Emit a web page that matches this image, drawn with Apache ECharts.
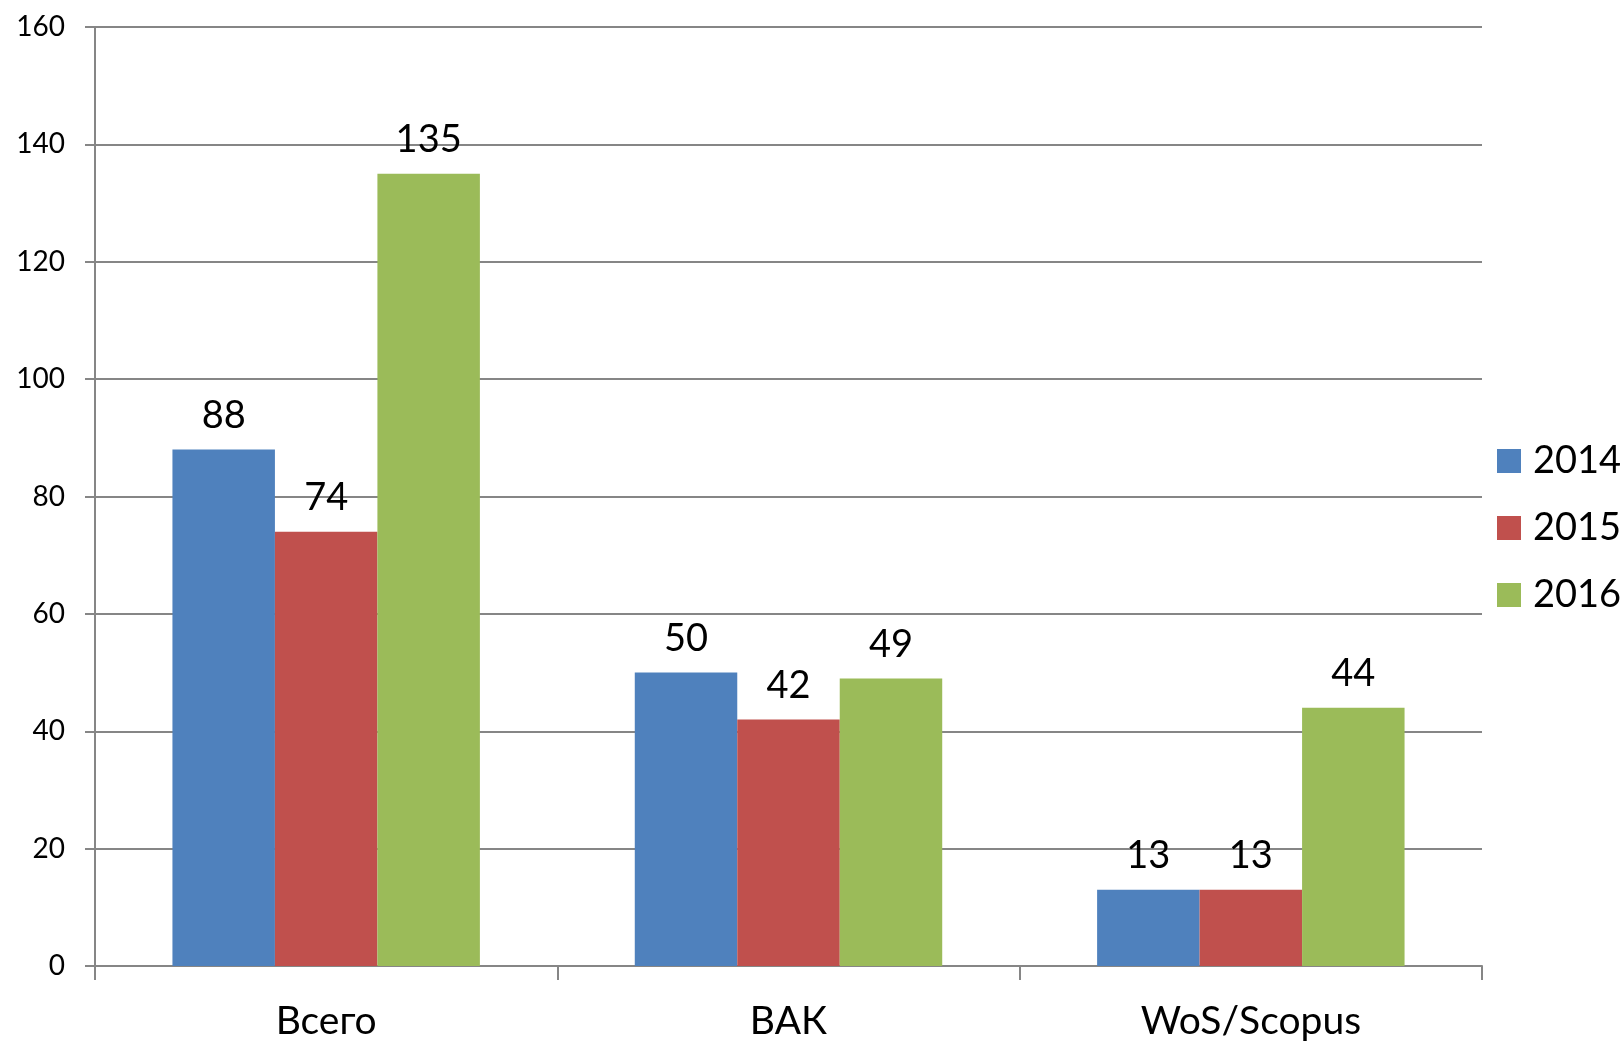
<!DOCTYPE html>
<html>
<head>
<meta charset="utf-8">
<script src="https://cdn.jsdelivr.net/npm/echarts@6/dist/echarts.min.js"></script>
<style>
html,body{margin:0;padding:0;background:#fff;}
#chart{width:1622px;height:1041px;}
</style>
</head>
<body>
<div id="chart"></div>
<script>
const categories = ['Всего', 'ВАК', 'WoS/Scopus'];
const seriesNames = ['2014', '2015', '2016'];
const values2014 = [88, 50, 13];
const values2015 = [74, 42, 13];
const values2016 = [135, 49, 44];
const yTicks = [0, 20, 40, 60, 80, 100, 120, 140, 160];

const colors = ['#4F81BD', '#C0504D', '#9BBB59'];
const FONT = 'Lato, "Noto Sans", sans-serif';
const allValues = [values2014, values2015, values2016];

const chart = echarts.init(document.getElementById('chart'));
chart.setOption({
  animation: false,
  backgroundColor: '#ffffff',
  color: colors,
  grid: { left: 95, right: 140, top: 27, bottom: 74, containLabel: false },
  legend: {
    orient: 'vertical',
    left: 1497,
    top: 441,
    padding: 0,
    icon: 'rect',
    itemWidth: 24,
    itemHeight: 24,
    itemGap: 27,
    data: seriesNames,
    textStyle: { fontFamily: FONT, fontSize: 38, color: '#000', lineHeight: 40, padding: [0,0,0,7] }
  },
  xAxis: {
    type: 'category',
    data: categories,
    axisLine: { lineStyle: { color: '#868686', width: 2 } },
    axisTick: { show: true, length: 14, lineStyle: { color: '#868686', width: 2 } },
    axisLabel: { fontFamily: FONT, fontSize: 39, color: '#000', margin: 36 }
  },
  yAxis: {
    type: 'value',
    min: 0, max: 160, interval: 20,
    axisLine: { show: true, lineStyle: { color: '#868686', width: 2 } },
    axisTick: { show: true, length: 10, lineStyle: { color: '#868686', width: 2 } },
    splitLine: { show: true, lineStyle: { color: '#868686', width: 2 } },
    axisLabel: { fontFamily: FONT, fontSize: 28, color: '#000', margin: 30,
      formatter: v => yTicks.includes(v) ? String(v) : '' }
  },
  series: seriesNames.map((name, i) => ({
    name: name,
    type: 'bar',
    data: allValues[i],
    barGap: '0%',
    barCategoryGap: '33.5%',
    itemStyle: { color: colors[i] },
    label: { show: true, position: 'top', distance: 15, fontFamily: FONT, fontSize: 38, color: '#000' }
  }))
});
</script>
</body>
</html>
